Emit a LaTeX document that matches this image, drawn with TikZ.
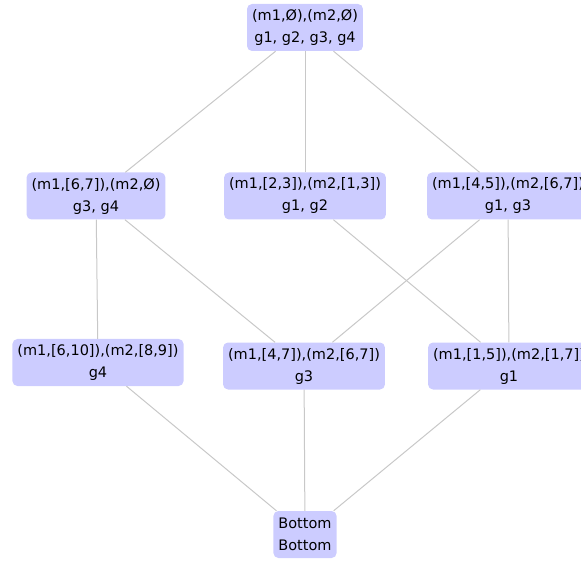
\documentclass[tikz,border=0pt]{standalone}
\usepackage{fontspec}
\setmainfont{DejaVu Sans}
\usepackage{tikz}
\usetikzlibrary{positioning}

\definecolor{latfill}{RGB}{204,204,255}
\definecolor{latedge}{RGB}{200,200,200}

\begin{document}
\begin{tikzpicture}[x=1pt, y=-1pt,
                    every node/.style={rectangle, rounded corners=5pt, fill=latfill, align=center,
                                       inner xsep=5pt, minimum height=47pt,
                                       font=\fontsize{14.5}{22}\selectfont},
                    lat/.style={draw=latedge, line width=1pt}]
                    \useasboundingbox (0, 0) rectangle (581, 561);

                    % Nodes
                    \node (top) at (305, 27.5) {(m1,Ø),(m2,Ø)\\g1, g2, g3, g4};
                    \node (l2) at (96, 196) {(m1,[6,7]),(m2,Ø)\\g3, g4};
                    \node (m2) at (305, 196) {(m1,[2,3]),(m2,[1,3])\\g1, g2};
                    \node (r2) at (508, 196) {(m1,[4,5]),(m2,[6,7])\\g1, g3};
                    \node (l3) at (98, 362.5) {(m1,[6,10]),(m2,[8,9])\\g4};
                    \node (m3) at (304, 366) {(m1,[4,7]),(m2,[6,7])\\g3};
                    \node (r3) at (509, 366) {(m1,[1,5]),(m2,[1,7])\\g1};
                    \node (bot) at (305, 534.5) {Bottom\\Bottom};

                    % Edges
                    % top to l2, m2, r2
                    \draw [lat] (top) -- (l2);
                    \draw [lat] (top) -- (m2);
                    \draw [lat] (top) -- (r2);

                    % l2 to l3
                    \draw [lat] (l2) -- (l3);

                    % l2 to m3
                    \draw [lat] (l2) -- (m3);

                    % m2 to r3
                    \draw [lat] (m2) -- (r3);

                    % r2 to m3
                    \draw [lat] (r2) -- (m3);

                    % r2 to r3
                    \draw [lat] (r2) -- (r3);

                    % l3, m3, r3 to bot
                    \draw [lat] (l3) -- (bot);
                    \draw [lat] (m3) -- (bot);
                    \draw [lat] (r3) -- (bot);

                \end{tikzpicture}
\end{document}
